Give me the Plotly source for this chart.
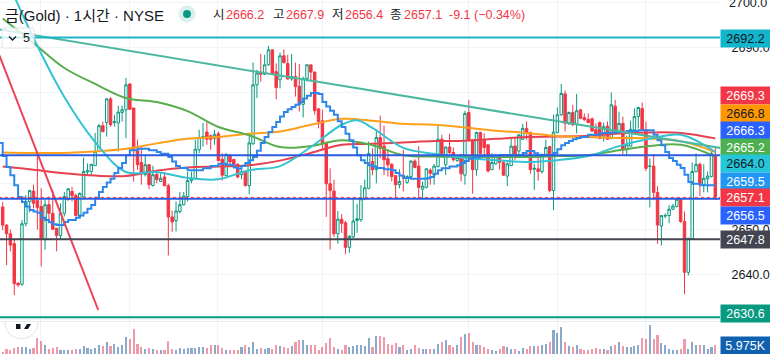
import plotly.graph_objects as go

opens = [2654.9,2650.9,2649.0,2646.8,2638.1,2637.9,2651.2,2656.1,2658.4,2656.3,
2655.0,2647.7,2655.4,2653.5,2650.2,2648.6,2653.5,2656.5,2658.3,2657.4,
2652.8,2657.1,2662.6,2662.7,2664.0,2667.1,2672.8,2673.5,2678.7,2673.5,
2673.4,2675.7,2676.3,2682.0,2676.7,2667.5,2664.7,2662.0,2664.2,2659.6,
2662.1,2660.5,2661.5,2659.6,2652.7,2651.9,2653.9,2655.4,2657.2,2660.7,
2661.1,2667.5,2670.0,2671.4,2670.6,2670.0,2671.0,2665.4,2661.8,2666.3,
2665.4,2664.3,2662.0,2662.5,2659.6,2668.8,2681.8,2684.5,2684.1,2686.2,
2689.5,2684.7,2682.9,2688.2,2686.5,2683.1,2683.6,2681.5,2677.5,2683.2,
2686.2,2684.6,2676.5,2673.9,2669.1,2660.0,2658.4,2649.0,2652.2,2651.4,
2646.0,2648.3,2651.9,2652.1,2656.7,2659.0,2664.9,2663.1,2670.2,2668.3,
2665.5,2664.3,2661.8,2659.8,2661.8,2660.3,2661.6,2665.0,2663.9,2658.8,
2659.2,2663.0,2661.9,2663.8,2669.8,2664.2,2668.1,2666.9,2665.1,2666.4,
2661.9,2675.7,2669.6,2663.1,2671.3,2669.7,2668.6,2663.1,2664.4,2665.8,
2664.7,2661.7,2664.0,2668.3,2667.2,2669.8,2672.2,2671.3,2663.2,2663.3,
2662.7,2666.1,2668.2,2658.5,2671.3,2675.2,2679.8,2673.2,2675.7,2673.0,
2676.3,2674.6,2674.2,2674.3,2671.9,2673.5,2670.5,2672.7,2670.0,2677.1,
2671.5,2673.3,2667.5,2668.3,2671.9,2674.8,2676.6,2671.9,2663.8,2663.9,
2658.1,2650.7,2652.9,2653.0,2654.4,2655.0,2656.7,2651.7,2640.5,2647.9,
2662.7,2664.3,2659.8,2661.1,2661.6,2666.2]
highs = [2656.0,2651.1,2649.9,2647.7,2638.3,2652.0,2657.5,2658.7,2659.8,2666.7,
2659.0,2656.5,2657.2,2658.7,2650.2,2655.7,2658.2,2659.0,2659.3,2657.9,
2658.1,2665.8,2664.5,2664.3,2671.2,2673.2,2673.7,2678.9,2679.1,2675.2,
2677.2,2677.2,2683.3,2682.0,2676.7,2669.7,2668.1,2666.4,2664.3,2664.0,
2662.7,2662.3,2662.6,2660.0,2654.1,2656.1,2658.2,2658.2,2662.6,2662.7,
2669.7,2671.9,2673.4,2673.5,2670.8,2671.9,2671.5,2666.7,2666.7,2666.4,
2665.4,2664.5,2663.1,2662.9,2671.2,2686.7,2685.1,2688.6,2688.4,2690.4,
2689.5,2686.5,2688.9,2689.6,2688.4,2688.6,2686.7,2686.4,2683.6,2686.4,
2686.2,2684.7,2676.6,2676.3,2669.3,2663.4,2660.9,2654.0,2653.3,2651.8,
2648.7,2656.7,2655.6,2659.7,2660.9,2669.3,2667.8,2672.0,2675.0,2672.8,
2667.6,2664.5,2661.8,2663.2,2667.5,2661.9,2665.2,2665.4,2668.3,2660.5,
2663.4,2663.4,2664.4,2672.8,2670.8,2668.2,2671.0,2668.0,2666.1,2666.4,
2676.1,2678.5,2669.8,2671.5,2671.5,2671.1,2668.6,2666.7,2666.4,2666.1,
2665.2,2664.7,2670.0,2670.0,2670.8,2673.2,2673.7,2671.5,2664.4,2665.8,
2666.7,2669.7,2668.3,2675.2,2676.8,2682.0,2680.5,2675.9,2677.4,2679.8,
2676.4,2675.5,2675.5,2674.6,2673.3,2673.7,2673.5,2673.7,2680.1,2678.5,
2675.9,2674.8,2670.6,2673.9,2676.6,2677.0,2677.9,2673.7,2665.6,2666.6,
2659.5,2653.1,2653.5,2655.3,2655.6,2656.8,2656.8,2653.9,2648.1,2664.7,
2666.7,2664.7,2664.3,2662.7,2667.2,2667.9]
lows = [2649.8,2642.1,2645.1,2635.5,2637.3,2637.5,2650.6,2653.7,2654.6,2649.9,
2641.8,2645.5,2651.7,2649.9,2645.1,2647.8,2652.8,2656.3,2656.1,2652.8,
2652.4,2656.8,2661.8,2661.8,2664.0,2667.1,2671.3,2670.4,2672.6,2672.6,
2667.1,2673.7,2670.1,2676.3,2660.5,2663.1,2659.8,2661.6,2658.8,2659.4,
2660.1,2660.5,2659.4,2644.2,2649.4,2649.5,2653.5,2655.2,2656.1,2660.1,
2660.9,2666.7,2668.2,2668.6,2667.5,2668.6,2664.9,2660.7,2661.6,2663.8,
2664.0,2661.2,2661.0,2659.4,2657.7,2668.6,2678.9,2682.5,2684.0,2686.0,
2684.3,2678.6,2681.0,2686.5,2682.9,2682.7,2679.2,2675.9,2674.6,2682.5,
2682.5,2675.2,2672.2,2667.5,2652.7,2645.5,2648.3,2646.8,2649.2,2644.5,
2644.8,2648.0,2649.2,2651.6,2656.4,2658.8,2661.9,2660.1,2665.6,2661.9,
2661.6,2660.5,2656.8,2659.0,2658.3,2660.0,2661.4,2663.4,2656.8,2656.8,
2659.0,2659.8,2659.8,2663.6,2666.1,2661.9,2666.4,2664.9,2664.9,2660.5,
2659.8,2669.3,2657.8,2661.8,2666.4,2665.6,2662.5,2663.1,2664.2,2663.1,
2661.7,2659.5,2663.9,2665.2,2666.1,2669.7,2669.7,2662.2,2658.6,2660.7,
2662.2,2666.0,2658.1,2654.2,2671.1,2675.0,2671.5,2673.0,2672.7,2671.1,
2674.2,2673.9,2673.3,2671.5,2670.0,2669.8,2669.3,2669.7,2669.8,2671.3,
2671.3,2666.5,2666.1,2668.2,2671.7,2672.2,2671.7,2662.8,2654.8,2656.4,
2646.8,2646.4,2652.4,2651.3,2654.2,2654.8,2651.4,2635.7,2639.8,2647.6,
2662.5,2657.3,2658.1,2658.1,2661.4,2656.4]
closes = [2650.9,2649.0,2646.5,2638.0,2637.7,2651.2,2656.1,2658.5,2655.7,2654.8,
2648.0,2655.4,2653.5,2650.0,2648.6,2653.5,2657.2,2658.9,2657.4,2653.0,
2657.9,2662.7,2662.9,2664.3,2667.1,2672.8,2671.5,2678.7,2673.0,2673.7,
2675.8,2676.3,2681.8,2676.4,2667.5,2664.2,2662.2,2664.2,2659.8,2662.0,
2660.9,2661.2,2659.6,2652.7,2651.6,2654.0,2655.4,2657.3,2660.7,2661.2,
2667.6,2670.2,2670.4,2669.8,2669.8,2670.9,2665.1,2661.9,2666.5,2664.8,
2664.1,2661.5,2662.7,2659.6,2669.0,2681.8,2684.4,2684.1,2686.2,2689.5,
2684.3,2681.2,2688.2,2686.7,2683.1,2683.6,2681.4,2677.5,2683.2,2686.2,
2684.6,2676.1,2673.7,2669.0,2660.0,2658.5,2649.0,2652.2,2651.3,2646.0,
2648.4,2651.8,2652.3,2656.7,2659.1,2666.7,2663.1,2670.2,2667.8,2665.3,
2664.2,2661.6,2659.8,2660.5,2661.5,2661.6,2665.0,2663.6,2659.2,2659.5,
2663.3,2662.3,2663.9,2669.8,2666.4,2668.1,2666.9,2665.3,2665.8,2662.2,
2675.5,2669.5,2663.1,2671.3,2666.7,2668.0,2662.8,2664.7,2666.1,2664.7,
2661.9,2664.4,2668.3,2666.1,2670.8,2672.2,2671.3,2663.1,2663.4,2662.7,
2666.4,2668.0,2658.5,2671.4,2675.2,2679.9,2673.3,2675.7,2673.0,2676.1,
2674.4,2674.1,2673.5,2671.6,2670.8,2670.0,2672.6,2669.8,2677.4,2671.5,
2673.3,2667.5,2668.6,2672.0,2674.8,2676.8,2671.9,2663.4,2663.9,2658.1,
2650.9,2653.0,2653.0,2654.4,2655.1,2656.6,2651.7,2640.5,2648.0,2662.7,
2664.3,2659.8,2661.2,2661.7,2666.7,2657.1]
volumes = [1.4,3.2,3.0,4.4,4.8,4.8,4.8,3.7,4.4,11.2,8.9,6.0,3.7,4.1,4.8,3.0,3.0,2.5,3.0,3.7,
3.7,5.3,4.4,3.7,4.4,6.0,5.3,8.2,5.3,6.6,4.8,6.0,11.7,10.1,16.9,6.6,4.8,3.7,4.4,3.7,
3.0,2.5,2.5,8.9,3.7,3.0,4.1,3.7,4.4,4.1,4.1,4.8,4.8,4.1,6.4,6.0,6.4,4.4,3.0,2.5,
3.0,2.5,4.8,6.0,4.8,8.2,3.7,4.4,
3.7,4.4,3.7,6.0,5.3,4.8,4.4,5.3,8.2,9.4,9.4,6.0,6.0,6.4,3.0,4.8,7.8,11.0,4.8,3.7,2.5,6.0,
4.8,5.5,6.0,6.2,5.5,11.0,4.8,12.4,12.4,11.7,7.1,6.0,7.8,4.8,6.4,2.5,3.2,6.0,4.1,3.7,
3.2,3.7,3.7,7.1,8.2,9.4,6.4,4.8,6.0,11.7,14.0,14.7,8.2,6.0,6.0,4.8,3.2,3.0,2.1,3.7,
5.3,4.8,3.7,
3.7,2.1,4.4,3.7,5.3,5.5,5.3,6.4,7.1,8.2,16.3,14.4,18.5,8.2,5.5,4.8,6.0,3.7,3.0,3.0,
3.7,4.4,3.7,3.2,2.5,5.3,6.0,8.2,5.5,4.8,4.8,5.5,6.0,11.0,10.5,19.7,10.1,12.8,7.8,6.0,
3.7,3.0,2.5,3.7,10.1,3.7,8.2,6.0,6.0,6.0,3.7,4.8,5.975]

ma_bars = [0,8,16,24,32,40,48,56,64,72,80,88,96,104,112,120,128,136,144,152,160,168,176,185]
ma_orange = [2666.9,2666.8,2666.8,2667.1,2667.7,2668.9,2669.9,2670.3,2671.0,2671.5,2673.0,2674.3,2673.9,2673.2,2673.0,2672.4,2671.7,2671.2,2670.5,2670.3,2670.1,2670.0,2669.4,2667.0]
ma_red = [2663.8,2663.1,2662.3,2661.8,2661.7,2662.9,2663.6,2663.8,2664.1,2665.1,2666.8,2668.6,2668.8,2669.1,2669.4,2669.5,2669.9,2670.3,2670.4,2670.6,2671.1,2671.3,2671.2,2670.0]
ma_green = [2696.4,2691.0,2685.5,2682.0,2678.9,2678.0,2676.0,2672.5,2670.7,2668.1,2668.3,2669.6,2668.5,2666.3,2666.0,2665.9,2665.9,2665.9,2666.1,2666.3,2667.4,2668.3,2668.6,2666.0]
cyan_bars = [0,8,16,24,32,40,48,56,64,72,80,88,92,96,104,112,120,128,136,144,152,160,168,176,185]
ma_cyan = [2707.1,2692.1,2679.1,2669.2,2662.6,2662.6,2661.3,2661.0,2663.0,2663.9,2668.1,2673.0,2674.0,2672.3,2667.9,2666.6,2665.7,2665.2,2664.8,2665.2,2666.1,2668.3,2669.9,2670.8,2667.0]
step_bars = [-1,0,1,2,3,4,5,6,7,8,9,10,11,12,13,14,16,17,19,20,21,22,23,24,25,26,27,28,29,30,31,32,33,35,36,38,40,41,43,44,45,46,48,51,52,54,56,58,60,61,62,63,64,65,66,67,68,69,70,71,72,73,74,75,76,77,78,79,80,81,82,83,84,85,86,87,88,89,90,91,92,93,94,95,96,97,99,101,102,103,104,106,108,110,111,112,113,114,116,118,119,120,121,122,124,129,133,135,136,138,139,141,143,144,145,146,147,148,149,150,152,155,158,160,162,165,168,169,170,171,172,173,174,175,176,177,178,179,181,185]
step_values = [2669.0,2666.1,2663.7,2661.9,2659.7,2657.1,2656.0,2655.0,2654.2,2653.9,2653.6,2652.5,2652.0,2651.5,2651.1,2650.9,2651.6,2652.0,2652.5,2653.0,2653.6,2654.5,2655.3,2656.9,2658.2,2659.3,2660.3,2661.1,2662.4,2663.5,2664.6,2666.3,2667.4,2667.7,2667.7,2667.4,2667.0,2666.6,2665.9,2664.9,2663.9,2663.5,2663.0,2663.0,2663.4,2663.9,2664.4,2664.2,2663.6,2663.3,2663.9,2664.6,2665.2,2665.9,2667.3,2669.0,2670.3,2671.4,2672.5,2673.6,2674.8,2675.8,2676.4,2676.9,2677.4,2678.0,2678.8,2679.4,2680.0,2680.0,2679.8,2678.0,2677.0,2676.1,2675.2,2673.8,2672.5,2671.0,2669.6,2668.0,2666.3,2665.2,2664.6,2664.1,2663.8,2663.5,2663.2,2663.0,2662.4,2661.8,2661.3,2661.1,2661.1,2661.2,2661.5,2662.2,2663.0,2663.4,2663.8,2664.1,2664.6,2665.0,2665.5,2665.8,2666.1,2666.3,2666.3,2666.8,2667.2,2666.7,2666.3,2666.3,2666.8,2667.6,2668.5,2669.0,2669.4,2669.8,2670.1,2670.3,2670.8,2671.2,2671.3,2671.4,2671.6,2671.8,2671.8,2670.8,2669.6,2668.5,2667.0,2665.7,2665.0,2664.2,2663.5,2662.0,2660.4,2660.0,2659.7,2659.7]

trend_bars = [-1,187]
trend_values = [2694.0,2667.8]
fall_bars = [-1,24.8]
fall_values = [2688.6,2632.2]
levels = [(2692.2,"#1CB5C5","solid",2),(2666.3,"#2B5BE0","solid",2),(2656.7,"#2B5BE0","solid",2),(2657.0,"#F23645","dot",1),(2647.8,"#434651","solid",2),(2630.6,"#089981","solid",2)]
grid_bars = [9.9,32.9,55.8,83,120.9,144,166.9]
price_ticks = [2630,2640,2650,2660,2670,2680,2690,2700]
price_tick_labels = ["","2640.0","2650.0","","","","2690.0",""]

badges = [("2692.2",38,"#12B5CB","#131722"),("2669.3",96,"#F23645","#ffffff"),("2666.8",113.5,"#FF9800","#131722"),
("2666.3",130,"#2962FF","#ffffff"),("2665.2",147,"#4CAF50","#ffffff"),("2664.0",164,"#26C6DA","#131722"),
("2659.5",181,"#2196F3","#ffffff"),("2657.1",198,"#F23645","#ffffff"),("2656.5",215,"#2962FF","#ffffff"),
("2647.8",239.5,"#434651","#ffffff"),("2630.6",313,"#089981","#ffffff"),("5.975K",345,"#1060B0","#ffffff")]

W,H = 770,354
FONT = "Liberation Sans, Noto Sans CJK KR, sans-serif"
px = lambda v: v/W
py = lambda v: 1-v/H
UP,DOWN = "#089981","#F23645"

fig = go.Figure()
bars = list(range(len(opens)))
vol_colors = ["rgba(41,98,160,0.55)" if c>=o else "rgba(226,70,100,0.55)" for o,c in zip(opens,closes)]
fig.add_trace(go.Bar(x=bars,y=volumes,marker_color=vol_colors,marker_line_width=0,width=0.55,xaxis="x2",yaxis="y2"))
fig.add_trace(go.Candlestick(x=bars,open=opens,high=highs,low=lows,close=closes,
    increasing=dict(line=dict(color=UP,width=1),fillcolor="#ffffff"),
    decreasing=dict(line=dict(color=DOWN,width=1),fillcolor=DOWN),whiskerwidth=0))
for xs,ys,col,wd,shp in [(ma_bars,ma_red,"#E8404F",2,"spline"),(ma_bars,ma_orange,"#FF9F1C",2,"spline"),
                     (ma_bars,ma_green,"#58AE4C",2,"spline"),(cyan_bars,ma_cyan,"#35C3D3",2,"spline"),
                     (step_bars,step_values,"#2E86EA",2,"hv")]:
    fig.add_trace(go.Scatter(x=xs,y=ys,mode="lines",line=dict(color=col,width=wd,shape=shp),cliponaxis=True))
fig.add_trace(go.Scatter(x=trend_bars,y=trend_values,mode="lines",line=dict(color="#4DB8A2",width=2)))
fig.add_trace(go.Scatter(x=fall_bars,y=fall_values,mode="lines",line=dict(color="#EC4456",width=2)))
for val,col,dash,wd in levels:
    fig.add_trace(go.Scatter(x=trend_bars,y=[val,val],mode="lines",line=dict(color=col,width=wd,dash=dash)))

ann = []
def label(txt,x,y,col,size):
    ann.append(dict(text=txt,xref="paper",yref="paper",x=px(x),y=py(y),xanchor="left",yanchor="middle",showarrow=False,
        borderpad=0,font=dict(family=FONT,size=size,color=col)))
label("2700.0",728,3,"#131722",12.5)
for txt,y,bg,fg in badges:
    ann.append(dict(text=txt,xref="paper",yref="paper",x=px(720),y=py(y),xanchor="left",yanchor="middle",showarrow=False,
        width=49,height=17,bgcolor=bg,borderpad=0,align="center",font=dict(family=FONT,size=12.5,color=fg)))
label("금(Gold) · 1시간 · NYSE",4,15,"#131722",15)
for t,x,c in [("시",212,"#131722"),("2666.2",225,DOWN),("고",272,"#131722"),("2667.9",285,DOWN),("저",331,"#131722"),
              ("2656.4",344,DOWN),("종",389,"#131722"),("2657.1",403,DOWN),("-9.1",448,DOWN),("(−0.34%)",473,DOWN)]:
    label(t,x,15,c,12.5)
label("5",22,38,"#131722",12.5)

def rect(x0,y0,x1,y1,**k):
    return dict(type="rect",xref="paper",yref="paper",x0=px(x0),x1=px(x1),y0=py(y0),y1=py(y1),**k)
def path(pts,close=False,**k):
    d = "M "+" L ".join(f"{px(a):.5f} {py(b):.5f}" for a,b in pts)+(" Z" if close else "")
    return dict(type="path",xref="paper",yref="paper",path=d,**k)
shapes = [
    rect(0,321,720,321.8,fillcolor="#E0E3EB",line_width=0,layer="above"),
    dict(type="circle",xref="paper",yref="paper",x0=px(178.5),x1=px(195.5),y0=py(22.5),y1=py(5.5),fillcolor="rgba(8,153,129,0.15)",line_width=0,layer="above"),
    dict(type="circle",xref="paper",yref="paper",x0=px(183),x1=px(191),y0=py(18),y1=py(10),fillcolor="#089981",line_width=0,layer="above"),
    dict(type="path",xref="paper",yref="paper",layer="above",fillcolor="rgba(255,255,255,0.78)",line=dict(color="#E0E3EB",width=1),
         path=f"M {px(4):.5f} {py(28):.5f} L {px(32):.5f} {py(28):.5f} Q {px(34):.5f} {py(28):.5f} {px(34):.5f} {py(30):.5f} L {px(34):.5f} {py(46):.5f} Q {px(34):.5f} {py(48):.5f} {px(32):.5f} {py(48):.5f} L {px(4):.5f} {py(48):.5f} Q {px(2):.5f} {py(48):.5f} {px(2):.5f} {py(46):.5f} L {px(2):.5f} {py(30):.5f} Q {px(2):.5f} {py(28):.5f} {px(4):.5f} {py(28):.5f} Z"),
    path([(9,36.5),(12.5,40),(16,36.5)],line=dict(color="#131722",width=1.3),layer="above"),
    dict(type="path",xref="paper",yref="paper",layer="above",fillcolor="rgba(255,255,255,0.9)",line=dict(color="#E0E3EB",width=1),
         path=f"M {px(5):.5f} {py(322):.5f} C {px(5):.5f} {py(344):.5f} {px(38):.5f} {py(344):.5f} {px(38):.5f} {py(322):.5f}"),
    rect(16,324,20.5,329,fillcolor="#131722",line_width=0,layer="above"),
    path([(27,324),(31,324),(28,329),(24,329)],close=True,fillcolor="#131722",line_width=0,layer="above"),
]

i0 = -0.7
i1 = 720/3.852+i0
fig.update_layout(width=W,height=H,margin=dict(l=0,r=0,t=0,b=0),paper_bgcolor="#ffffff",plot_bgcolor="#ffffff",
    showlegend=False,annotations=ann,shapes=shapes,bargap=0,boxgap=0.2,boxgroupgap=0.2,
    font=dict(family=FONT,color="#131722"),
    xaxis=dict(domain=[0,720/W],range=[i0,i1],rangeslider=dict(visible=False),tickvals=grid_bars,showticklabels=False,automargin=False,
               ticks="",showgrid=True,gridcolor="#F0F3FA",gridwidth=1,zeroline=False,showline=False,anchor="y"),
    xaxis2=dict(domain=[0,720/W],range=[i0,i1],tickvals=grid_bars,showticklabels=False,ticks="",showgrid=True,gridcolor="#F0F3FA",automargin=False,
                zeroline=False,showline=False,anchor="y2"),
    yaxis=dict(domain=[33/H,1],range=[2700.48-321*0.22026,2700.48],side="right",tickvals=price_ticks,ticktext=price_tick_labels,automargin=False,
               tickfont=dict(family=FONT,size=12.5,color="#131722"),ticks="outside",ticklen=8,tickcolor="rgba(0,0,0,0)",
               showgrid=True,gridcolor="#F0F3FA",zeroline=False,showline=False,anchor="x"),
    yaxis2=dict(domain=[0,33/H],range=[0,22.7],showticklabels=False,ticks="",showgrid=False,zeroline=False,showline=False,anchor="x2",side="right",automargin=False))
fig.write_html("out.html",config=dict(displayModeBar=False),post_script="document.body.style.margin='0';document.body.style.overflow='hidden';")
